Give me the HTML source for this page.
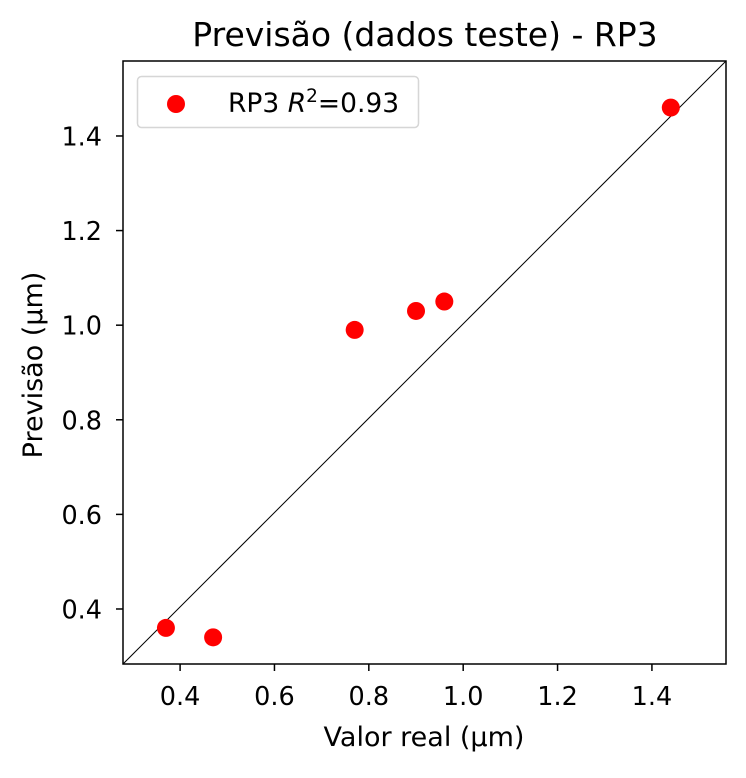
<!DOCTYPE html>
<html><head><meta charset="utf-8"><style>
body{margin:0;background:#fff;}
svg text{font-family:"DejaVu Sans","Liberation Sans",sans-serif;fill:#000;}
</style></head><body>
<svg width="746" height="773" xmlns="http://www.w3.org/2000/svg" id="chart">
<rect x="0" y="0" width="746" height="773" fill="#fff"/>
<text x="425" y="46" font-size="33" text-anchor="middle">Previsão (dados teste) - RP3</text>
<g id="plot"></g>
<rect x="123" y="61" width="603" height="603" fill="none" stroke="#000" stroke-width="1.5"/>
<text x="424" y="746" font-size="27" text-anchor="middle">Valor real (µm)</text>
<text transform="translate(42,365) rotate(-90)" font-size="27" text-anchor="middle">Previsão (µm)</text>
<g>
<rect x="137.5" y="76.5" width="281" height="51" rx="4" fill="#fff" stroke="#d6d6d6" stroke-width="1.5"/>
<circle cx="176" cy="104" r="9" fill="#ff0000"/>
<text x="228" y="112" font-size="26.5">RP3 <tspan font-style="italic">R</tspan><tspan font-size="18.5" dy="-10">2</tspan><tspan dy="10">=0.93</tspan></text>
</g>
</svg>
<script>
const xValues=[0.37,0.47,0.77,0.90,0.96,1.44];
const yValues=[0.36,0.34,0.99,1.03,1.05,1.46];
const xTicks=[0.4,0.6,0.8,1.0,1.2,1.4];
const yTicks=[0.4,0.6,0.8,1.0,1.2,1.4];
const xMin=0.279, xMax=1.557;
const yMin=0.2837, yMax=1.5585;
const L=123,R=726,T=61,B=664;
function sx(v){return L+(v-xMin)/(xMax-xMin)*(R-L);}
function sy(v){return B-(v-yMin)/(yMax-yMin)*(B-T);}
const NS="http://www.w3.org/2000/svg";
const g=document.getElementById('plot');
function mk(t,a){const e=document.createElementNS(NS,t);for(const k in a)e.setAttribute(k,a[k]);g.appendChild(e);return e;}
const diag=mk('line',{x1:L,y1:B,x2:R,y2:T,stroke:'#000','stroke-width':1});


xTicks.forEach(t=>{
 const l=mk('line',{x1:sx(t),x2:sx(t),y1:B,y2:B+7,stroke:'#000','stroke-width':1.5});
 
 
 const tx=mk('text',{x:sx(t),y:B+41,'font-size':25.5,'text-anchor':'middle'});
 tx.textContent=t.toFixed(1);
 
 
});
yTicks.forEach(t=>{
 const l=mk('line',{x1:L-7,x2:L,y1:sy(t),y2:sy(t),stroke:'#000','stroke-width':1.5});
 
 
 const tx=mk('text',{x:L-21,y:sy(t)+9.5,'font-size':25.5,'text-anchor':'end'});
 tx.textContent=t.toFixed(1);
 
 
});
xValues.forEach((x,i)=>{
 const c=mk('circle',{cx:sx(x),cy:sy(yValues[i]),r:9,fill:'#ff0000'});
 
 
});
</script>
</body></html>
